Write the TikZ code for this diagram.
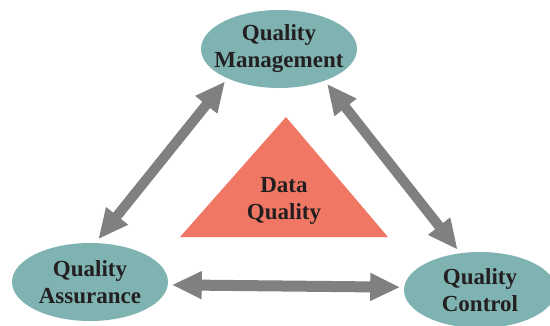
\documentclass[tikz,border=0pt]{standalone}
\usepackage{fontspec}
\setmainfont{Liberation Serif}
\usetikzlibrary{shapes.geometric,arrows.meta}
\definecolor{qteal}{HTML}{7FB3B2}
\definecolor{qsalmon}{HTML}{F07763}
\definecolor{qgray}{HTML}{808080}
\definecolor{qink}{HTML}{231F20}
\begin{document}
\begin{tikzpicture}[x=1pt,y=-1pt,
  qual/.style={ellipse,fill=qteal,minimum width=156pt,minimum height=78pt,inner sep=0pt,outer sep=4pt},
  qtext/.style={font=\bfseries\fontsize{23}{27}\selectfont,text=qink,align=center},
  dbl/.style={draw=qgray,line width=10pt,{Triangle[length=30pt,width=26pt]}-{Triangle[length=30pt,width=26pt]}}]
  \useasboundingbox (0,0) rectangle (550,325);
  % tri oblasti rizeni kvality
  \node[qual,label={[qtext]center:Quality\\Management}] (qm) at (279,49) {};
  \node[qual,label={[qtext]center:Quality\\Assurance}] (qa) at (90,282) {};
  \node[qual,minimum width=152pt,minimum height=76pt,label={[qtext]center:Quality\\Control}] (qc) at (480,290) {};
  % trojuhelnik uprostred
  \fill[qsalmon] (286,117) -- (388,237) -- (180,237) -- cycle;
  \node[qtext] (dq) at (284,201) {Data\\Quality};
  % obousmerne sipky
  \draw[dbl] (qm.211) -- (qa.79);
  \draw[dbl] (qm.324) -- (qc.119);
  \draw[dbl,line width=11pt] (qa.358) -- (qc.178);
\end{tikzpicture}
\end{document}
